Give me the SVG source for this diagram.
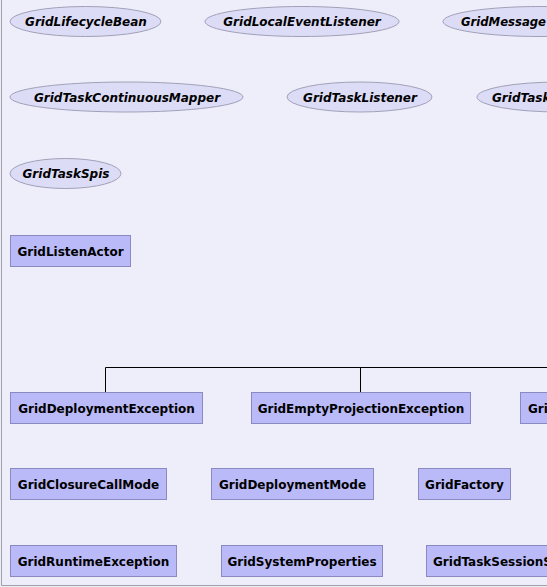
<svg xmlns="http://www.w3.org/2000/svg" width="547" height="587" viewBox="0 0 547 587">
<style>
.bg{fill:#EEEEFA}
.frame{stroke:#A0A0A8;stroke-width:1;fill:none}
.iface ellipse{fill:#DCDCF6;stroke:#A0A0B8;stroke-width:1}
.iface text{font-family:"DejaVu Sans",Verdana,sans-serif;font-size:12px;font-weight:bold;font-style:italic;fill:#000;text-anchor:middle}
.cls rect{fill:#BABAF8;stroke:#8A8AC0;stroke-width:1}
.cls text{font-family:"DejaVu Sans",Verdana,sans-serif;font-size:12px;font-weight:bold;fill:#000;text-anchor:middle}
.cut text{text-anchor:start}
.conn{stroke:#000;stroke-width:1;fill:none}
</style>
<rect class="bg" x="0" y="0" width="547" height="587"/>
<path class="frame" d="M1.5,0 V585.5 H547"/>

<g id="connectors">
<path class="conn" d="M105.5,392 V367.5 H547"/>
<path class="conn" d="M360.5,392 V367.5"/>
</g>

<g id="GridLifecycleBean" class="iface"><ellipse cx="85.5" cy="21.5" rx="75.5" ry="15"/><text x="86" y="26">GridLifecycleBean</text></g>
<g id="GridLocalEventListener" class="iface"><ellipse cx="302" cy="21.5" rx="97" ry="15"/><text x="302" y="26">GridLocalEventListener</text></g>
<g id="GridMessage" class="iface cut"><ellipse cx="540" cy="21.5" rx="97" ry="15"/><text x="461" y="26" textLength="85" lengthAdjust="spacingAndGlyphs">GridMessage</text></g>

<g id="GridTaskContinuousMapper" class="iface"><ellipse cx="126.5" cy="97" rx="116.5" ry="15"/><text x="127" y="101.5">GridTaskContinuousMapper</text></g>
<g id="GridTaskListener" class="iface"><ellipse cx="359.5" cy="97" rx="72.5" ry="15"/><text x="360" y="101.5">GridTaskListener</text></g>
<g id="GridTask" class="iface cut"><ellipse cx="560" cy="97" rx="83" ry="15"/><text x="492" y="101.5">GridTask</text></g>

<g id="GridTaskSpis" class="iface"><ellipse cx="65.5" cy="173.5" rx="55.5" ry="15"/><text x="66" y="178">GridTaskSpis</text></g>

<g id="GridListenActor" class="cls"><rect x="10.5" y="235.5" width="120" height="31"/><text x="70.5" y="255.5">GridListenActor</text></g>

<g id="GridDeploymentException" class="cls"><rect x="10.5" y="392.5" width="192" height="31"/><text x="106.5" y="412.5">GridDeploymentException</text></g>
<g id="GridEmptyProjectionException" class="cls"><rect x="251.5" y="392.5" width="219" height="31"/><text x="361" y="412.5">GridEmptyProjectionException</text></g>
<g id="Gri" class="cls cut"><rect x="520.5" y="392.5" width="120" height="31"/><text x="528" y="412.5">Gri</text></g>

<g id="GridClosureCallMode" class="cls"><rect x="10.5" y="468.5" width="156" height="31"/><text x="88.5" y="488.5">GridClosureCallMode</text></g>
<g id="GridDeploymentMode" class="cls"><rect x="211.5" y="468.5" width="162" height="31"/><text x="292.5" y="488.5">GridDeploymentMode</text></g>
<g id="GridFactory" class="cls"><rect x="418.5" y="468.5" width="92" height="31"/><text x="464.5" y="488.5">GridFactory</text></g>

<g id="GridRuntimeException" class="cls"><rect x="10.5" y="545.5" width="166" height="31"/><text x="93.5" y="565.5">GridRuntimeException</text></g>
<g id="GridSystemProperties" class="cls"><rect x="221.5" y="545.5" width="161" height="31"/><text x="302" y="565.5">GridSystemProperties</text></g>
<g id="GridTaskSessionS" class="cls cut"><rect x="426.5" y="545.5" width="200" height="31"/><text x="433" y="565.5">GridTaskSessionS</text></g>
</svg>
